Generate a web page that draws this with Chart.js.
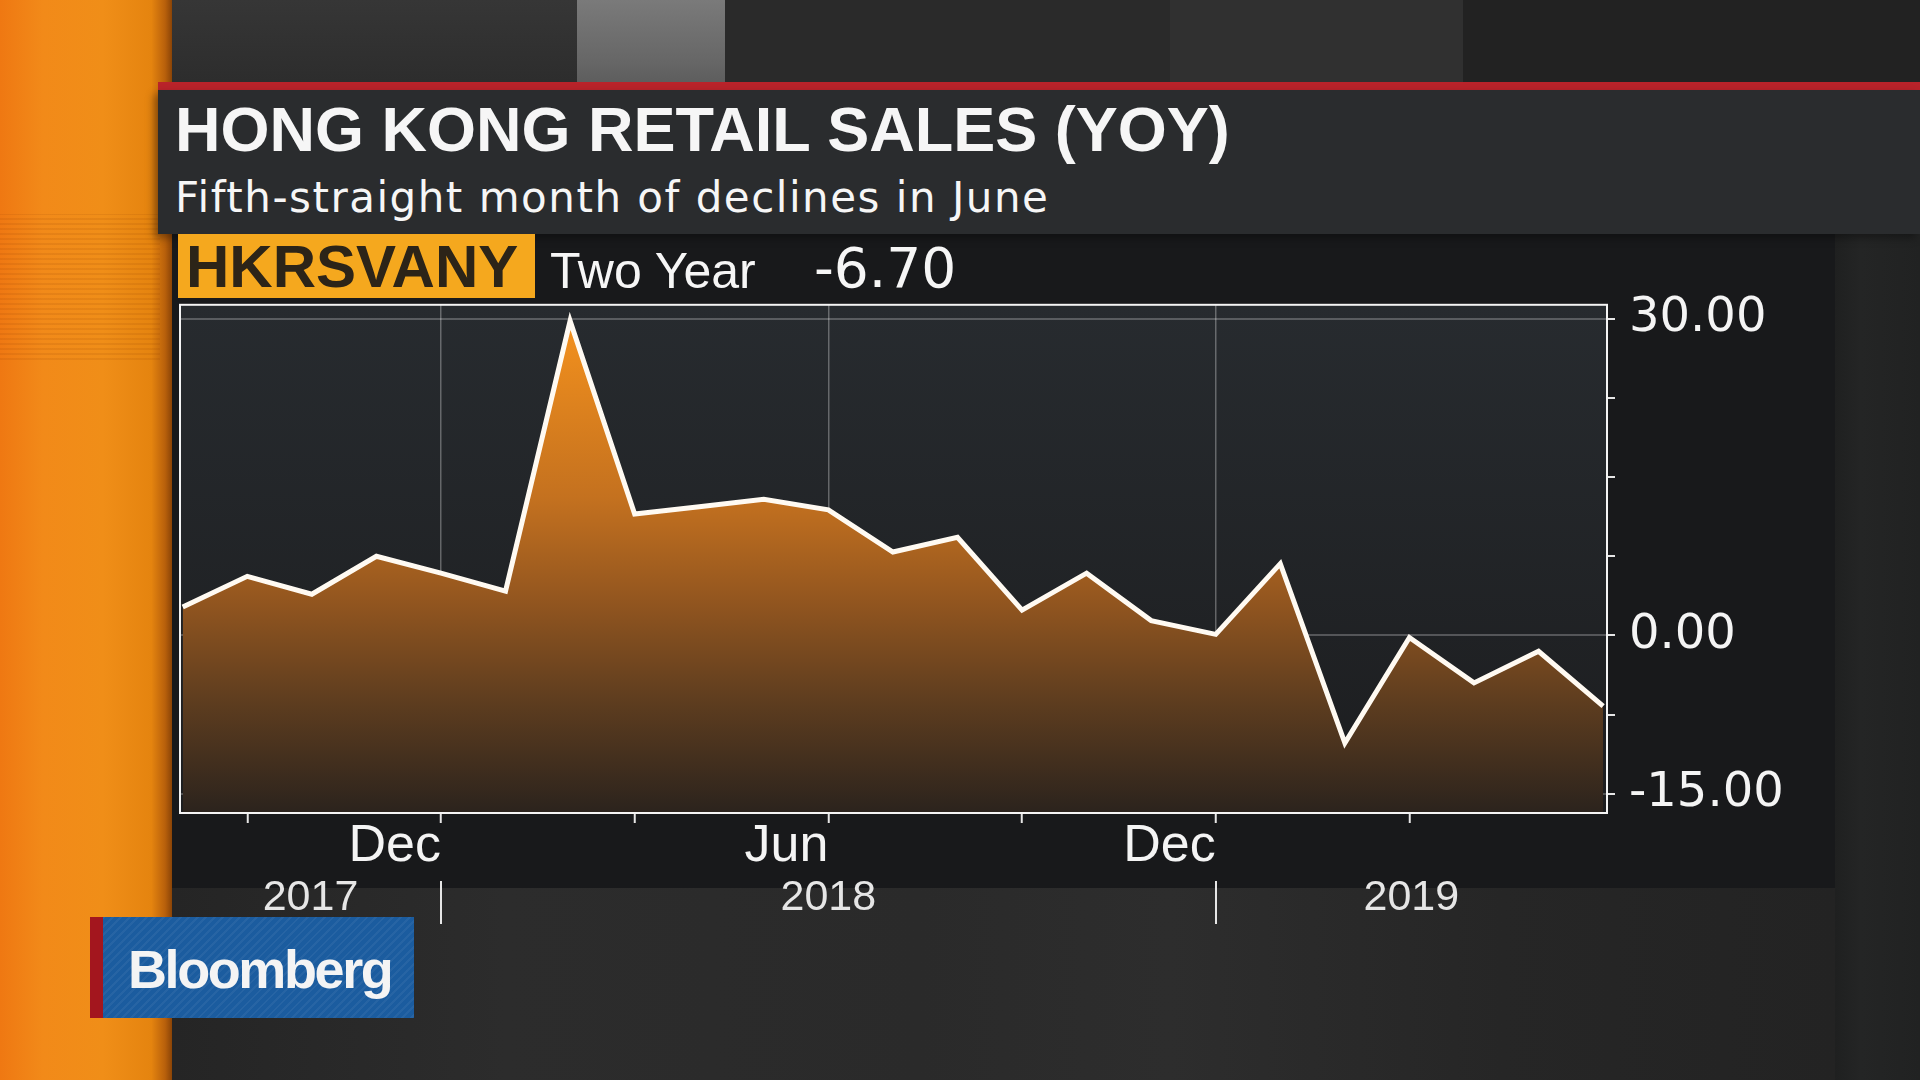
<!DOCTYPE html>
<html>
<head>
<meta charset="utf-8">
<title>Hong Kong Retail Sales (YoY)</title>
<script src="https://cdn.jsdelivr.net/npm/chart.js@4.4.1/dist/chart.umd.min.js"></script>
<style>
    html, body { margin: 0; padding: 0; }
    body {
        width: 1920px; height: 1080px; overflow: hidden; position: relative;
        background: #262626;
        font-family: "Liberation Sans", Arial, sans-serif;
    }
    .blk { position: absolute; }
    #orange {
        left: 0; top: 0; width: 172px; height: 1080px;
        background: linear-gradient(90deg, #ef7812 0%, #f28a19 25%, #f08e18 60%, #e5840f 88%, #b8600b 96%, #8a4407 100%);
    }
    #orangeBand {
        left: 0; top: 214px; width: 160px; height: 146px;
        background: repeating-linear-gradient(0deg, rgba(140,60,0,0.12) 0 2px, rgba(0,0,0,0) 2px 5px);
    }
    #top1 { left: 172px; top: 0; width: 405px; height: 90px; background: linear-gradient(#363636, #2c2c2c); }
    #top2 { left: 577px; top: 0; width: 148px; height: 90px; background: linear-gradient(#7a7a7a, #666 70%, #5a5a5a); }
    #top3 { left: 725px; top: 0; width: 445px; height: 90px; background: #2a2a2a; }
    #top4 { left: 1170px; top: 0; width: 293px; height: 90px; background: #303030; }
    #top5 { left: 1463px; top: 0; width: 457px; height: 90px; background: #222; }
    #redLine { left: 158px; top: 82px; width: 1762px; height: 8px; background: #b9232a; }
    #header {
        left: 158px; top: 90px; width: 1762px; height: 144px;
        background: #2a2c2e; box-shadow: -4px 4px 8px rgba(0,0,0,0.35);
    }
    #panel { left: 172px; top: 234px; width: 1663px; height: 654px; background: #18191b; }
    #rightStrip { left: 1835px; top: 234px; width: 85px; height: 846px; background: linear-gradient(90deg, #1f2020, #242525 30%, #212222); }
    #bottom {
        left: 172px; top: 888px; width: 1663px; height: 192px;
        background: linear-gradient(90deg, #252525 0%, #2c2c2c 20%, #2a2a2a 45%, #2d2d2d 60%, #262626 80%, #232323 100%);
    }
    .txt { position: absolute; white-space: nowrap; color: #f6f6f6; }
    #title { left: 175px; top: 98px; font-size: 63px; line-height: 63px; font-weight: bold; }
    #subtitle { left: 175px; top: 177px; font-family: "DejaVu Sans", sans-serif; font-size: 42px; line-height: 42px; letter-spacing: 1.5px; }
    #ticker {
        left: 178px; top: 234px; width: 357px; height: 64px; background: #f5a81e;
    }
    #tickerTxt { left: 186px; top: 237px; font-size: 60px; line-height: 60px; font-weight: bold; color: #2c2418; }
    #period { left: 550px; top: 246px; font-size: 50px; line-height: 50px; }
    #lastValue { left: 814px; top: 241px; font-family: "DejaVu Sans", sans-serif; font-size: 55px; line-height: 55px; }
    #lineChartRetail { position: absolute; left: 160px; top: 262px; }
    #logoRed { left: 90px; top: 917px; width: 13px; height: 101px; background: #a3161e; }
    #logo {
        left: 103px; top: 917px; width: 311px; height: 101px;
        background: repeating-linear-gradient(135deg, rgba(255,255,255,0.05) 0 2px, rgba(0,0,0,0) 2px 6px), #1b5c9f;
    }
    #logoTxt { left: 128px; top: 942px; font-size: 54px; line-height: 54px; font-weight: bold; letter-spacing: -2.4px; color: #f4f4f4; }
</style>
</head>
<body>
<div class="blk" id="orange"></div>
<div class="blk" id="orangeBand"></div>
<div class="blk" id="top1"></div>
<div class="blk" id="top2"></div>
<div class="blk" id="top3"></div>
<div class="blk" id="top4"></div>
<div class="blk" id="top5"></div>
<div class="blk" id="panel"></div>
<div class="blk" id="rightStrip"></div>
<div class="blk" id="bottom"></div>
<div class="blk" id="redLine"></div>
<div class="blk" id="header"></div>
<div class="txt" id="title">HONG KONG RETAIL SALES (YOY)</div>
<div class="txt" id="subtitle">Fifth-straight month of declines in June</div>
<div class="blk" id="ticker"></div>
<div class="txt" id="tickerTxt">HKRSVANY</div>
<div class="txt" id="period">Two Year</div>
<div class="txt" id="lastValue">-6.70</div>

<canvas id="lineChartRetail" width="1700" height="709"></canvas>

<div class="blk" id="logoRed"></div>
<div class="blk" id="logo"></div>
<div class="txt" id="logoTxt">Bloomberg</div>

<script>
/*
 * Chart data
 * */
var months = [
    'Aug 2017', 'Sep 2017', 'Oct 2017', 'Nov 2017', 'Dec 2017',
    'Jan 2018', 'Feb 2018', 'Mar 2018', 'Apr 2018', 'May 2018', 'Jun 2018',
    'Jul 2018', 'Aug 2018', 'Sep 2018', 'Oct 2018', 'Nov 2018', 'Dec 2018',
    'Jan 2019', 'Feb 2019', 'Mar 2019', 'Apr 2019', 'May 2019', 'Jun 2019'
];
var retailYoY = [
    2.7, 5.6, 3.9, 7.5, 5.9,
    4.2, 29.8, 11.5, 12.2, 12.9, 11.9,
    7.9, 9.3, 2.4, 5.9, 1.4, 0.1,
    6.8, -10.2, -0.2, -4.5, -1.5, -6.7
];
var xTickMonths = ['Sep 2017', 'Dec 2017', 'Mar 2018', 'Jun 2018', 'Sep 2018', 'Dec 2018', 'Mar 2019'];
var xLabelMonths = ['Dec', 'Jun'];
var yTicks = [-15, -7.5, 0, 7.5, 15, 22.5, 30];
var yLabelTicks = [30, 0, -15];
var yearLabels = ['2017', '2018', '2019'];
var yearBreaks = ['Dec 2017', 'Dec 2018'];

function monthIndex(name) {
    return months.indexOf(name);
}

function tickLabel(value) {
    var name = months[value];
    if (!name) return '';
    var mon = name.split(' ')[0];
    return xLabelMonths.indexOf(mon) >= 0 ? mon : '';
}

function getPoints() {
    var points = [];
    for (var i = 0; i < retailYoY.length; i++) {
        points.push({x: i, y: retailYoY[i]});
    }
    return points;
}

function areaGradient(context) {
    var chart = context.chart;
    var area = chart.chartArea;
    if (!area) return '#b0651e';
    var g = chart.ctx.createLinearGradient(0, area.top, 0, area.bottom);
    g.addColorStop(0, '#f8941d');
    g.addColorStop(0.38, '#c4711f');
    g.addColorStop(0.58, '#93561f');
    g.addColorStop(0.78, '#5e3d1f');
    g.addColorStop(1, '#2b231d');
    return g;
}

/*
 * Plot background, white frame and year row
 * */
var frameAndYears = {
    id: 'frameAndYears',
    beforeDraw: function (chart) {
        var a = chart.chartArea;
        var ctx = chart.ctx;
        var g = ctx.createLinearGradient(0, a.top, 0, a.bottom);
        g.addColorStop(0, '#272b2f');
        g.addColorStop(1, '#1c1d1f');
        ctx.save();
        ctx.fillStyle = g;
        ctx.fillRect(a.left, a.top, a.right - a.left, a.bottom - a.top);
        ctx.restore();
    },
    afterDraw: function (chart) {
        var a = chart.chartArea;
        var ctx = chart.ctx;
        var x = chart.scales.x;

        ctx.save();
        ctx.strokeStyle = '#f4f4f4';
        ctx.lineWidth = 2;
        ctx.strokeRect(a.left, a.top, a.right - a.left, a.bottom - a.top);

        var bounds = [x.min];
        for (var i = 0; i < yearBreaks.length; i++) {
            bounds.push(monthIndex(yearBreaks[i]));
        }
        bounds.push(x.max);

        ctx.font = '43px "Liberation Sans", Arial, sans-serif';
        ctx.fillStyle = '#e6e6e6';
        ctx.textAlign = 'center';
        ctx.textBaseline = 'alphabetic';
        for (i = 0; i < yearLabels.length; i++) {
            var left = x.getPixelForValue(bounds[i]);
            var right = x.getPixelForValue(bounds[i + 1]);
            ctx.fillText(yearLabels[i], (left + right) / 2, a.bottom + 97);
        }

        ctx.strokeStyle = '#e6e6e6';
        ctx.lineWidth = 2;
        for (i = 0; i < yearBreaks.length; i++) {
            var px = Math.round(x.getPixelForValue(monthIndex(yearBreaks[i])));
            ctx.beginPath();
            ctx.moveTo(px, a.bottom + 68);
            ctx.lineTo(px, a.bottom + 111);
            ctx.stroke();
        }
        ctx.restore();
    }
};

function loadChart(selectorId) {
    var canvas = document.getElementById(selectorId);
    var ctx = canvas.getContext('2d');

    var chart = new Chart(ctx, {
        type: 'line',
        data: {
            datasets: [{
                label: 'HKRSVANY',
                data: getPoints(),
                borderColor: '#fffaf2',
                borderWidth: 5,
                borderJoinStyle: 'miter',
                pointRadius: 0,
                tension: 0,
                fill: 'start',
                backgroundColor: areaGradient
            }]
        },
        options: {
            responsive: false,
            animation: false,
            layout: { padding: { left: 20, top: 0, right: 0, bottom: 0 } },
            plugins: { legend: { display: false }, tooltip: { enabled: false } },
            scales: {
                x: {
                    type: 'linear',
                    min: -0.042,
                    max: 22.06,
                    z: 1,
                    afterBuildTicks: function (scale) {
                        scale.ticks = xTickMonths.map(function (m) { return {value: monthIndex(m)}; });
                    },
                    afterFit: function (scale) { scale.height = 158; },
                    border: { display: false },
                    grid: {
                        color: function (c) {
                            return c.tick && tickLabel(c.tick.value) !== '' ? 'rgba(255,255,255,0.3)' : 'rgba(0,0,0,0)';
                        },
                        lineWidth: 1.5,
                        tickColor: '#e6e6e6',
                        tickLength: 10,
                        tickWidth: 2
                    },
                    ticks: {
                        align: 'end',
                        autoSkip: false,
                        maxRotation: 0,
                        minRotation: 0,
                        padding: 3,
                        color: '#f4f4f4',
                        font: { family: '"Liberation Sans", Arial, sans-serif', size: 52, lineHeight: 0.8 },
                        callback: function (v) { return tickLabel(v); }
                    }
                },
                y: {
                    position: 'right',
                    min: -16.83,
                    max: 31.33,
                    z: 1,
                    afterBuildTicks: function (scale) {
                        scale.ticks = yTicks.map(function (v) { return {value: v}; });
                    },
                    afterFit: function (scale) { scale.width = 253; },
                    border: { display: false },
                    grid: {
                        color: function (c) {
                            return c.tick && yLabelTicks.indexOf(c.tick.value) >= 0 ? 'rgba(255,255,255,0.24)' : 'rgba(0,0,0,0)';
                        },
                        lineWidth: 2,
                        tickColor: '#e6e6e6',
                        tickLength: 8,
                        tickWidth: 2
                    },
                    ticks: {
                        padding: 14,
                        color: '#f4f4f4',
                        font: { family: '"DejaVu Sans", sans-serif', size: 48 },
                        callback: function (v) { return yLabelTicks.indexOf(v) >= 0 ? v.toFixed(2) : ''; }
                    }
                }
            }
        },
        plugins: [frameAndYears]
    });

    return chart;
}

loadChart('lineChartRetail');
</script>
</body>
</html>
